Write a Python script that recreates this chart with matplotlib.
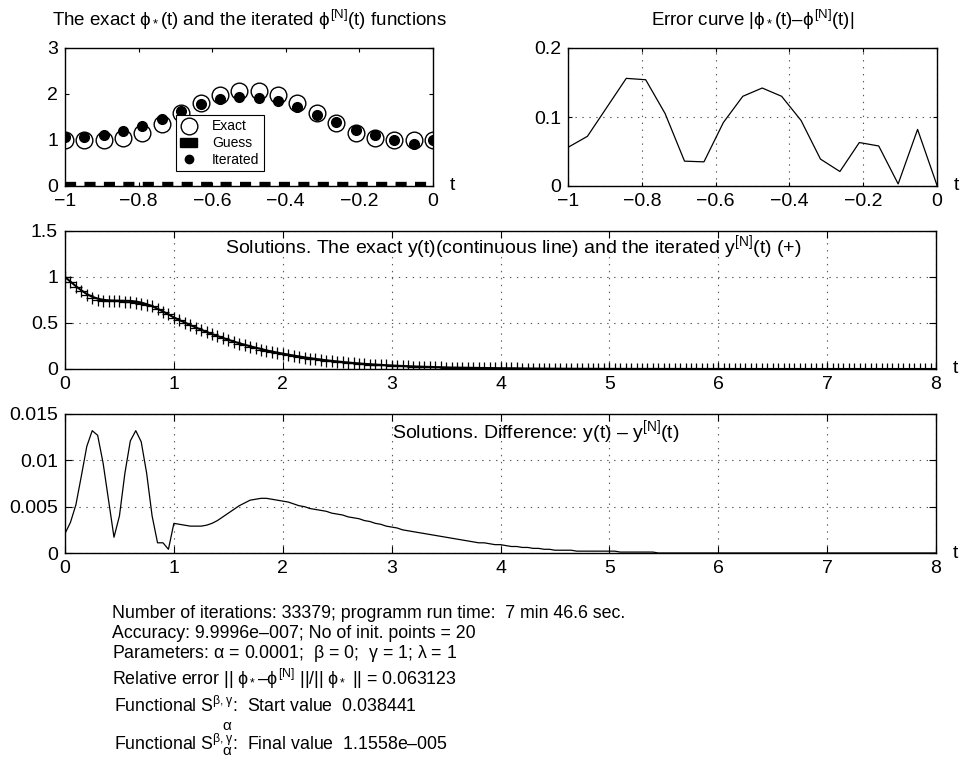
import numpy as np
import matplotlib.pyplot as plt
import matplotlib.patches as mpatches

plt.rcParams['font.family'] = ['Liberation Sans', 'DejaVu Sans']
plt.rcParams['mathtext.fontset'] = 'custom'
plt.rcParams['mathtext.rm'] = 'Liberation Sans'
plt.rcParams['mathtext.it'] = 'Liberation Sans'
plt.rcParams['mathtext.sf'] = 'Liberation Sans'
plt.rcParams['mathtext.bf'] = 'Liberation Sans:bold'
plt.rcParams['lines.scale_dashes'] = False

# initial points on [-1, 0]
t_init = np.linspace(-1, 0, 20)
phi_exact = [1.00, 1.00, 1.00, 1.04, 1.16, 1.35, 1.59, 1.81, 1.98, 2.06,
             2.06, 1.98, 1.81, 1.59, 1.36, 1.16, 1.04, 1.00, 1.00, 1.00]
phi_iter = [1.056, 1.072, 1.114, 1.196, 1.314, 1.455, 1.626, 1.775, 1.888, 1.930,
            1.918, 1.850, 1.715, 1.551, 1.381, 1.223, 1.098, 0.997, 0.918, 0.999]
phi_guess = [0, 0, 0, 0, 0, 0, 0, 0, 0, 0, 0, 0, 0, 0, 0, 0, 0, 0, 0, 0]
phi_err = np.abs(np.array(phi_exact) - np.array(phi_iter))

# solution on [0, 8], step 0.05
t_sol = np.linspace(0, 8, 161)
y_exact = [
    1.000, 0.950, 0.900, 0.855, 0.815, 0.785, 0.765, 0.752, 0.746, 0.744,
    0.743, 0.742, 0.740, 0.734, 0.722, 0.705, 0.684, 0.655, 0.625, 0.594,
    0.560, 0.532, 0.505, 0.478, 0.452, 0.427, 0.403, 0.380, 0.358, 0.337,
    0.317, 0.298, 0.280, 0.263, 0.247, 0.232, 0.217, 0.203, 0.190, 0.178,
    0.167, 0.156, 0.146, 0.136, 0.127, 0.118, 0.110, 0.102, 0.095, 0.088,
    0.082, 0.076, 0.070, 0.065, 0.060, 0.056, 0.052, 0.048, 0.044, 0.041,
    0.038, 0.035, 0.032, 0.030, 0.028, 0.026, 0.024, 0.022, 0.020, 0.019,
    0.017, 0.016, 0.015, 0.014, 0.013, 0.012, 0.011, 0.010, 0.0095, 0.0088,
    0.0081, 0.0075, 0.0069, 0.0064, 0.0059, 0.0054, 0.0050, 0.0046, 0.0042, 0.0039,
    0.0036, 0.0033, 0.0030, 0.0028, 0.0026, 0.0024, 0.0022, 0.0020, 0.0018, 0.0017,
    0.0016, 0.0015, 0.0014, 0.0013, 0.0012, 0.0011, 0.0010, 0.0009, 0.0008, 0.0008,
    0.0007, 0.0007, 0.0006, 0.0006, 0.0005, 0.0005, 0.0005, 0.0004, 0.0004, 0.0004,
    0.0003, 0.0003, 0.0003, 0.0003, 0.0003, 0.0002, 0.0002, 0.0002, 0.0002, 0.0002,
    0.0002, 0.0002, 0.0001, 0.0001, 0.0001, 0.0001, 0.0001, 0.0001, 0.0001, 0.0001,
    0.0001, 0.0001, 0.0001, 0.0001, 0.0001, 0.0001, 0.0001, 0.0001, 0.0001, 0.0001,
    0.0, 0.0, 0.0, 0.0, 0.0, 0.0, 0.0, 0.0, 0.0, 0.0,
    0.0]
y_diff = [
    0.0021, 0.0033, 0.0052, 0.0083, 0.0115, 0.0132, 0.0127, 0.0097, 0.0057, 0.0017,
    0.0040, 0.0086, 0.0121, 0.0132, 0.0120, 0.0086, 0.0040, 0.0011, 0.0011, 0.0004,
    0.0032, 0.0031, 0.0030, 0.0029, 0.0029, 0.0029, 0.0030, 0.0032, 0.0035, 0.0039,
    0.0043, 0.0047, 0.0051, 0.0054, 0.0057, 0.0058, 0.0059, 0.0059, 0.0058, 0.0057,
    0.0056, 0.0055, 0.0053, 0.0051, 0.0050, 0.0048, 0.0047, 0.0046, 0.0045, 0.0043,
    0.0042, 0.0041, 0.0039, 0.0038, 0.0037, 0.0035, 0.0034, 0.0032, 0.0031, 0.0029,
    0.0028, 0.0027, 0.0025, 0.0024, 0.0023, 0.0022, 0.0021, 0.0020, 0.0019, 0.0018,
    0.0017, 0.0016, 0.0015, 0.0014, 0.0013, 0.0012, 0.0011, 0.0011, 0.0010, 0.0009,
    0.0009, 0.0008, 0.0007, 0.0007, 0.0006, 0.0006, 0.0005, 0.0005, 0.0004, 0.0004,
    0.0003, 0.0003, 0.0003, 0.0003, 0.0002, 0.0002, 0.0002, 0.0002, 0.0002, 0.0002,
    0.0002, 0.0002, 0.0001, 0.0001, 0.0001, 0.0001, 0.0001, 0.0001, 0.0001, 0.0,
    0.0, 0.0, 0.0, 0.0, 0.0, 0.0, 0.0, 0.0, 0.0, 0.0,
    0.0, 0.0, 0.0, 0.0, 0.0, 0.0, 0.0, 0.0, 0.0, 0.0,
    0.0, 0.0, 0.0, 0.0, 0.0, 0.0, 0.0, 0.0, 0.0, 0.0,
    0.0, 0.0, 0.0, 0.0, 0.0, 0.0, 0.0, 0.0, 0.0, 0.0,
    0.0, 0.0, 0.0, 0.0, 0.0, 0.0, 0.0, 0.0, 0.0, 0.0,
    0.0]
y_iter = np.array(y_exact) - np.array(y_diff)

info_lines = [
    'Number of iterations: 33379; programm run time:  7 min 46.6 sec.',
    'Accuracy: 9.9996e\u2013007; No of init. points = 20',
    r'Parameters: $\alpha$ = 0.0001;  $\beta$ = 0;  $\gamma$ = 1; $\lambda$ = 1',
    r'Relative error || $\phi_*$' + '\u2013' + r'$\phi^{[N]}$ ||/|| $\phi_*$ || = 0.063123',
    r'Functional S$^{\beta,\gamma}$:  Start value  0.038441',
    r'Functional S$^{\beta,\gamma}$:  Final value  1.1558e' + '\u2013' + '005',
]
info_base = [618, 638, 658, 685, 712, 750]
info_x = [112, 112, 112, 112, 114, 114]
# baselines of the low alpha index under S
alpha_base = [730, 755]

W, H = 963, 758
fig = plt.figure(figsize=(W / 100, H / 100), dpi=100)


def box(l, t, r, b):
    return [l / W, 1 - b / H, (r - l) / W, (b - t) / H]


def style(ax, ticklen, grid=True):
    for s in ax.spines.values():
        s.set_linewidth(1.0)
    ax.tick_params(direction='in', length=ticklen, width=0.8, top=True, right=True,
                   labelsize=14, pad=5)
    if grid:
        ax.grid(True, color='0.35', linestyle=(0, (1, 4)), linewidth=0.8)
    ax.annotate('t', xy=(1, 0), xycoords='axes fraction', xytext=(12, 0),
                textcoords='offset points', ha='left', va='center', fontsize=14)


ax1 = fig.add_axes(box(65, 48, 433, 186))
ax1.plot(t_init, phi_exact, 'o', ms=12, mfc='none', mec='k', mew=1.0)
ax1.plot(t_init, phi_guess, color='k', lw=6, dashes=(8, 6))
ax1.plot(t_init, phi_iter, 'o', ms=7, mfc='k', mec='k')
ax1.set_xlim(-1, 0)
ax1.set_ylim(0, 3)
ax1.set_xticks([-1, -0.8, -0.6, -0.4, -0.2, 0])
ax1.set_xticklabels(['\u22121', '\u22120.8', '\u22120.6', '\u22120.4', '\u22120.2', '0'])
ax1.set_yticks([0, 1, 2, 3])
style(ax1, 3, grid=False)
ax1.set_title(r'The exact $\phi_*$(t) and the iterated $\phi^{[N]}$(t) functions',
              fontsize=13.5, pad=16)
handles = [
    plt.Line2D([], [], ls='none', marker='o', ms=12, mfc='none', mec='k', mew=1.0),
    mpatches.Patch(facecolor='k', edgecolor='k'),
    plt.Line2D([], [], ls='none', marker='o', ms=6, mfc='k', mec='k'),
]
leg = ax1.legend(handles, ['Exact', 'Guess', 'Iterated'], loc='lower left',
                 bbox_to_anchor=(0.302, 0.109), borderaxespad=0, fontsize=10,
                 fancybox=False, framealpha=1, edgecolor='k', labelspacing=0.2,
                 handlelength=1.2, handleheight=0.6, handletextpad=1.1,
                 borderpad=0.3)
leg.get_frame().set_linewidth(0.8)

ax2 = fig.add_axes(box(568, 48, 937, 186))
ax2.plot(t_init, phi_err, color='k', lw=0.9)
ax2.set_xlim(-1, 0)
ax2.set_ylim(0, 0.2)
ax2.set_xticks([-1, -0.8, -0.6, -0.4, -0.2, 0])
ax2.set_xticklabels(['\u22121', '\u22120.8', '\u22120.6', '\u22120.4', '\u22120.2', '0'])
ax2.set_yticks([0, 0.1, 0.2])
ax2.set_yticklabels(['0', '0.1', '0.2'])
style(ax2, 3)
ax2.set_title(r'Error curve |$\phi_*$(t)' + '\u2013' + r'$\phi^{[N]}$(t)|',
              fontsize=13.5, pad=16)

ax3 = fig.add_axes(box(65, 231, 936, 369))
ax3.plot(t_sol, y_exact, color='k', lw=1.5)
ax3.plot(t_sol, y_iter, '+', color='k', ms=9, mew=0.9)
ax3.set_xlim(0, 8)
ax3.set_ylim(0, 1.5)
ax3.set_yticks([0, 0.5, 1, 1.5])
ax3.set_yticklabels(['0', '0.5', '1', '1.5'])
style(ax3, 5)
ax3.text(1.47, 1.33, 'Solutions. The exact y(t)(continuous line) and the iterated '
         r'y$^{[N]}$(t) (+)', fontsize=14, ha='left', va='center')

ax4 = fig.add_axes(box(65, 414, 936, 553))
ax4.plot(t_sol, y_diff, color='k', lw=0.9)
ax4.set_xlim(0, 8)
ax4.set_ylim(0, 0.015)
ax4.set_yticks([0, 0.005, 0.01, 0.015])
ax4.set_yticklabels(['0', '0.005', '0.01', '0.015'])
style(ax4, 5)
ax4.text(3.0, 0.0131, 'Solutions. Difference: y(t) \u2013 ' + r'y$^{[N]}$(t)',
         fontsize=14, ha='left', va='center')

for x, b, s in zip(info_x, info_base, info_lines):
    fig.text(x / W, 1 - b / H, s, fontsize=12.8, ha='left', va='baseline')
for b in alpha_base:
    fig.text(222 / W, 1 - b / H, r'$\alpha$', fontsize=11, ha='left', va='baseline')

fig.savefig('out.png', dpi=100)
